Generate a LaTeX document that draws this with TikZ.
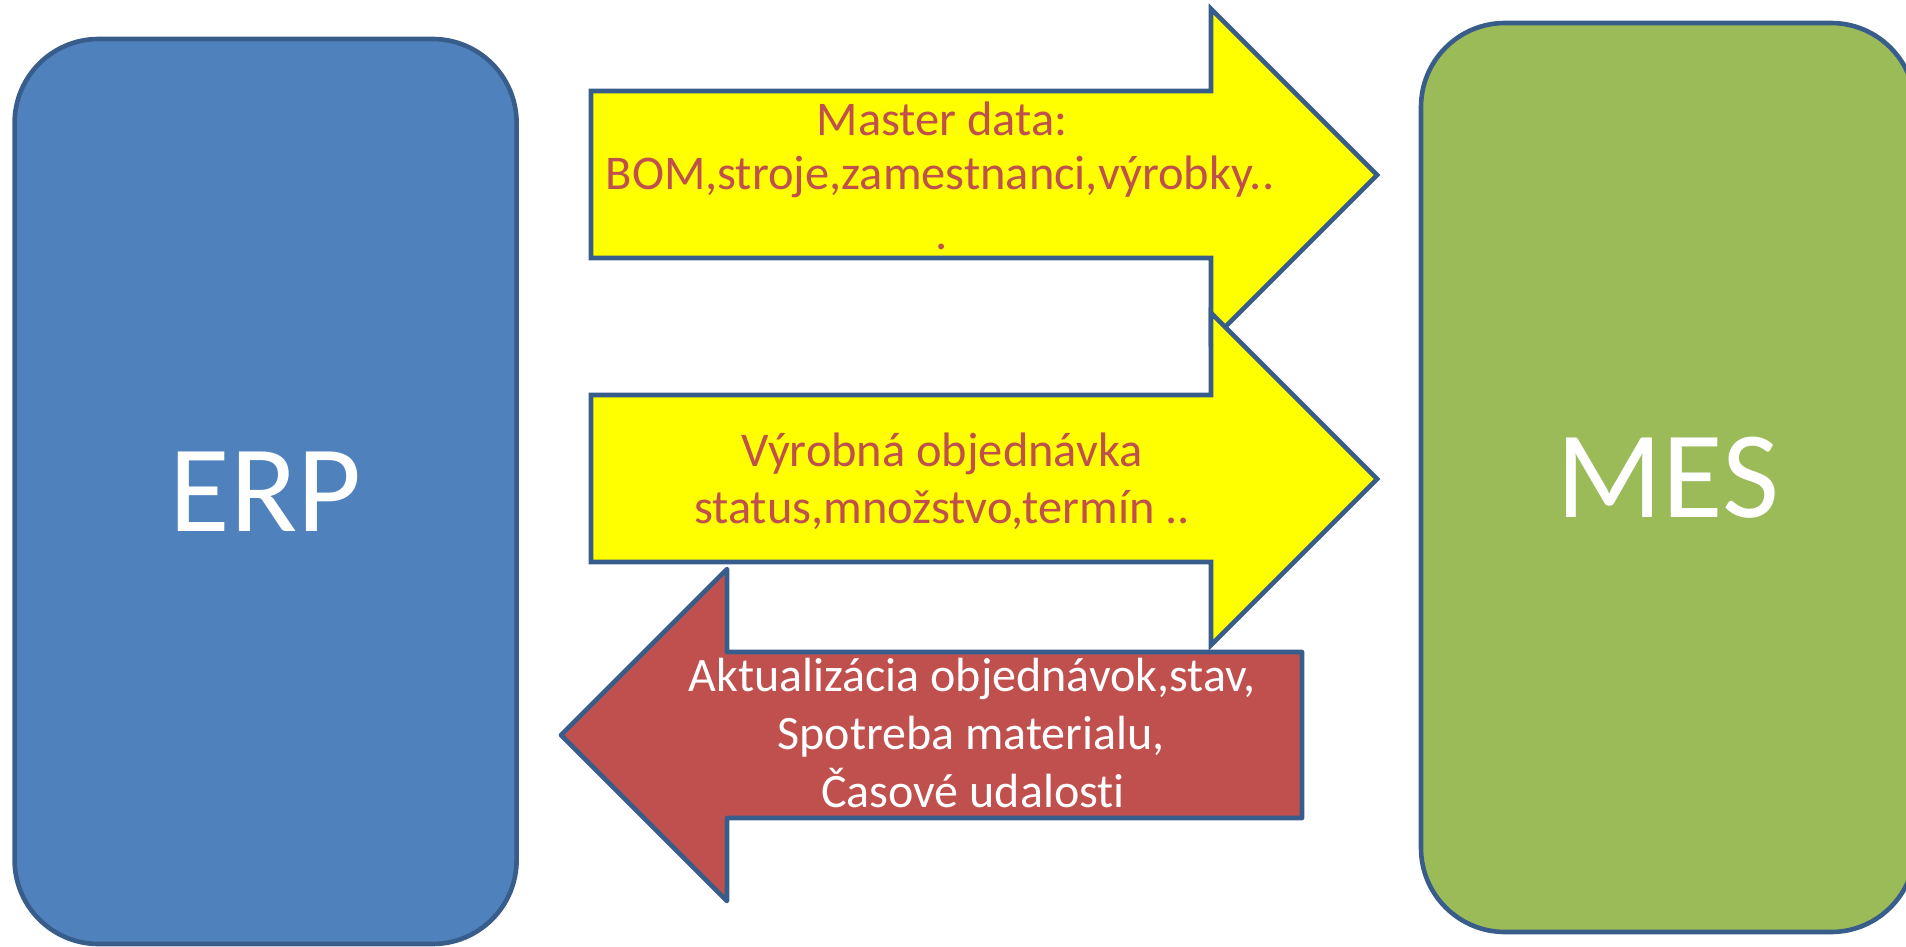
\documentclass[tikz,border=0pt]{standalone}
\usepackage{fontspec}
\setmainfont{Carlito}[Ligatures=NoCommon]
\definecolor{outl}{HTML}{385D8A}
\definecolor{erpfill}{HTML}{4F81BD}
\definecolor{mesfill}{HTML}{9BBB59}
\definecolor{yel}{HTML}{FFFF00}
\definecolor{redf}{HTML}{C0504D}
\definecolor{redtext}{HTML}{C0504D}
\tikzset{
  sysbox/.style={draw=outl, line width=2.3pt, rounded corners=42pt, inner sep=0pt,
    text=white, font=\fontsize{62}{70}\selectfont},
  yarrow/.style={draw=outl, line width=2.3pt, fill=yel, line join=miter},
  rarrow/.style={draw=outl, line width=2.3pt, fill=redf, line join=round},
  ylabel/.style={anchor=base, inner sep=0pt, text=redtext, font=\fontsize{24.2}{29}\selectfont},
  rlabel/.style={anchor=base, inner sep=0pt, text=white, font=\fontsize{24}{29}\selectfont}
}
\begin{document}
\begin{tikzpicture}[x=0.5pt, y=-0.5pt]
\useasboundingbox (0,0) rectangle (1906,947);
% system boxes
\node[sysbox, fill=erpfill, minimum width=251pt, minimum height=452.5pt] (erp) at (265.6,491.5) {ERP};
\node[sysbox, fill=mesfill, minimum width=247pt, minimum height=454.5pt] (mes) at (1668,477.5) {MES};
% arrow 1 (to MES)
\draw[yarrow] (591,91) -- (1211,91) -- (1211,9) -- (1377,175) -- (1211,341) -- (1211,258) -- (591,258) -- cycle;
\node[ylabel] (a1l1) at (942,135) {Master data:};
\node[ylabel] (a1l2) at (940,190) {BOM,stroje,zamestnanci,výrobky..};
\node[ylabel] (a1l3) at (942,249) {.};
% arrow 2 (to MES)
\draw[yarrow] (591,395) -- (1211,395) -- (1211,313) -- (1377,479) -- (1211,645) -- (1211,562) -- (591,562) -- cycle;
\node[ylabel] (a2l1) at (942,466) {Výrobná objednávka};
\node[ylabel] (a2l2) at (942,523) {status,množstvo,termín ..};
% arrow 3 (to ERP)
\draw[rarrow] (1302,652) -- (727,652) -- (727,569) -- (561,735) -- (727,901) -- (727,818) -- (1302,818) -- cycle;
\node[rlabel] (a3l1) at (972,691) {Aktualizácia objednávok,stav,};
\node[rlabel] (a3l2) at (971,749) {Spotreba materialu,};
\node[rlabel] (a3l3) at (973,807) {Časové udalosti};
\end{tikzpicture}
\end{document}
